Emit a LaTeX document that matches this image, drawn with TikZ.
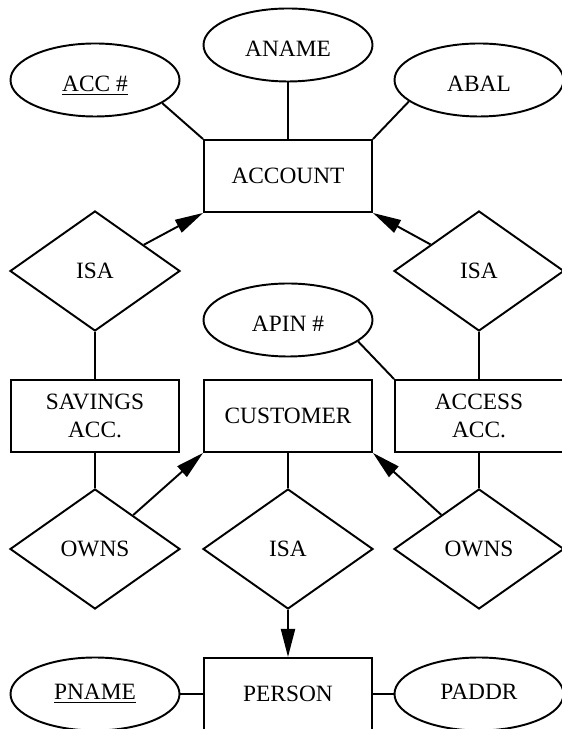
\documentclass[tikz,border=0pt]{standalone}
\usepackage{fontspec}
\setmainfont{Liberation Serif}
\usepackage{tikz}
\usetikzlibrary{shapes.geometric}
\usetikzlibrary{arrows.meta}

\begin{document}
\begin{tikzpicture}[
  line width=1.1pt,
  every node/.style={font=\fontsize{13.3}{15.9}\selectfont, align=center},
  entity/.style={draw, rectangle, minimum width=3.36cm, minimum height=1.44cm, inner sep=0pt},
  attrib/.style={draw, ellipse, minimum width=3.38cm, minimum height=1.46cm, inner sep=0pt,
    text height=0.46cm, text depth=0pt},
  lowattrib/.style={attrib, text height=0.33cm, text depth=0.10cm},
  relship/.style={draw, diamond, minimum width=3.4cm, minimum height=2.4cm, inner sep=0pt},
  isarrow/.style={-{Triangle[length=16pt,width=8pt]}}
]
\useasboundingbox (0,0) rectangle (11.24,14.58);
\clip (0,0) rectangle (11.24,14.58);

\node[attrib] (aname) at (5.76,13.68) {ANAME};
\node[attrib] (accno) at (1.90,12.98) {\underline{ACC \#}};
\node[attrib] (abal) at (9.58,12.98) {ABAL};
\node[entity] (account) at (5.76,11.06) {ACCOUNT};

\node[relship] (isaleft) at (1.90,9.16) {ISA};
\node[relship] (isaright) at (9.58,9.16) {ISA};
\node[attrib] (apin) at (5.76,8.18) {APIN \#};

\node[entity] (savings) at (1.90,6.26) {SAVINGS\\ACC.};
\node[entity] (customer) at (5.76,6.26) {CUSTOMER};
\node[entity] (access) at (9.58,6.26) {ACCESS\\ACC.};

\node[relship] (ownsleft) at (1.90,3.60) {OWNS};
\node[relship] (isamid) at (5.76,3.60) {ISA};
\node[relship] (ownsright) at (9.58,3.60) {OWNS};

\node[lowattrib] (pname) at (1.90,0.70) {\underline{PNAME}};
\node[entity] (person) at (5.76,0.70) {PERSON};
\node[lowattrib] (paddr) at (9.58,0.70) {PADDR};

\draw (accno.-19) -- (account.north west);
\draw (aname) -- (account);
\draw (abal.197) -- (account.north east);
\draw[isarrow] (isaleft) -- (account.south west);
\draw[isarrow] (isaright) -- (account.south east);
\draw (isaleft) -- (savings);
\draw (isaright) -- (access);
\draw (apin.-17) -- (access.north west);

\draw (savings) -- (ownsleft);
\draw (access) -- (ownsright);
\draw[isarrow] (ownsleft) -- (customer.south west);
\draw[isarrow] (ownsright) -- (customer.south east);
\draw (customer) -- (isamid);
\draw[isarrow] (isamid) -- (person);

\draw (pname) -- (person);
\draw (person) -- (paddr);

\end{tikzpicture}
\end{document}
